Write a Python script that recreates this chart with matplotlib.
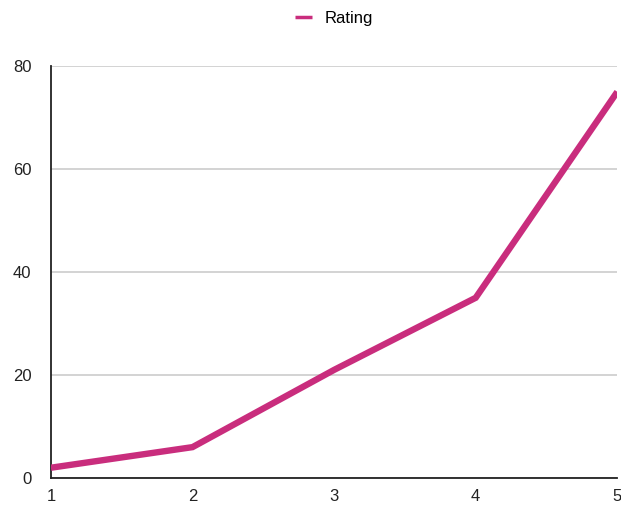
import matplotlib
matplotlib.use("Agg")
import matplotlib.pyplot as plt

x_values = [1, 2, 3, 4, 5]
rating = [2, 6, 21, 35, 75]
y_ticks = [0, 20, 40, 60, 80]
series_name = "Rating"

plt.rcParams['font.family'] = ['Liberation Sans', 'DejaVu Sans']

fig = plt.figure(figsize=(6.21, 5.08), dpi=100)
ax = fig.add_axes([0.082, 0.059, 0.912, 0.811])

ax.plot(x_values, rating, color='#C92D7D', linewidth=4.6, solid_joinstyle='miter',
        solid_capstyle='butt', label=series_name, zorder=3)

ax.set_xlim(1, 5)
ax.set_ylim(0, 80)
ax.set_yticks(y_ticks)
ax.set_xticks(x_values)
ax.yaxis.grid(True, color='#CCCCCC', linewidth=1.2)
ax.set_axisbelow(True)

for s in ['top', 'right']:
    ax.spines[s].set_visible(False)
for s in ['left', 'bottom']:
    ax.spines[s].set_color('#222222')
    ax.spines[s].set_linewidth(1.3)

ax.tick_params(axis='both', length=0, labelsize=12, colors='#222222')
ax.tick_params(axis='y', pad=14)
ax.tick_params(axis='x', pad=8)

leg = ax.legend(loc='upper center', bbox_to_anchor=(0.5, 1.17), frameon=False,
                fontsize=12, handlelength=1.0, handletextpad=0.8)
for line in leg.get_lines():
    line.set_linewidth(2.5)

fig.savefig('out.png', dpi=100)
